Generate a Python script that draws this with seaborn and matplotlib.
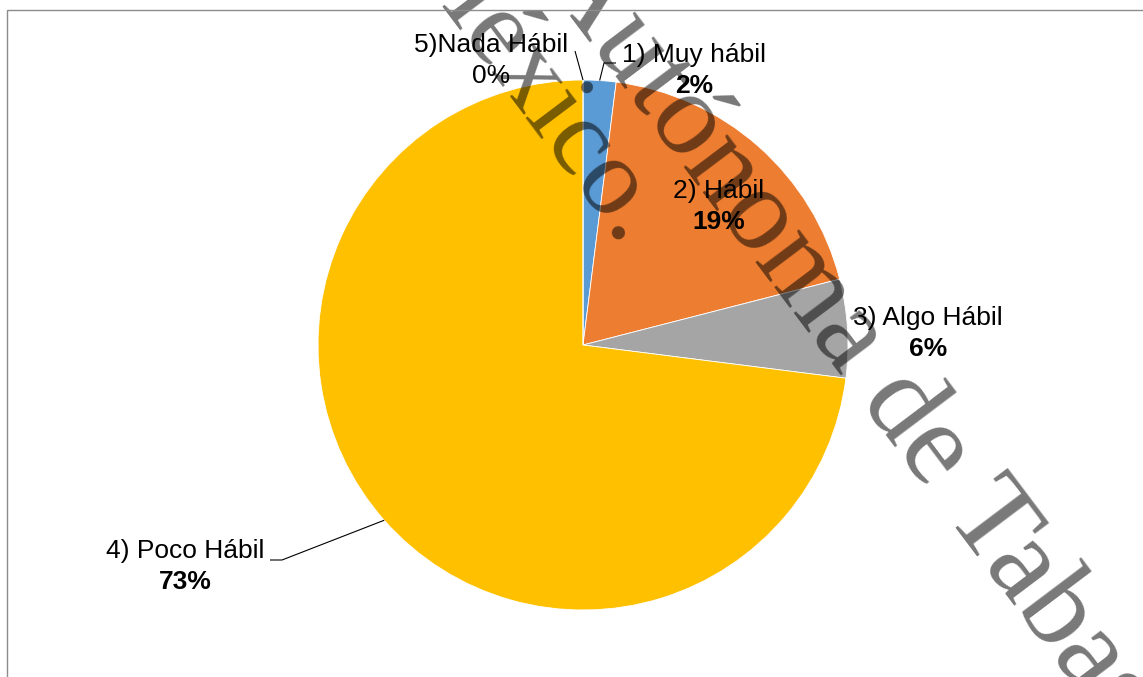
import numpy as np
import matplotlib
matplotlib.use("Agg")
import matplotlib.pyplot as plt
import seaborn as sns
from matplotlib.patches import Rectangle
from matplotlib import font_manager

# ---------------- data ----------------
categories = ["1) Muy hábil", "2) Hábil", "3) Algo Hábil", "4) Poco Hábil", "5)Nada Hábil"]
values = [2, 19, 6, 73, 0]
pct_bold = [True, True, True, True, False]
slice_colors = ["#5B9BD5", "#ED7D31", "#A5A5A5", "#FFC000", "#4472C4"]
watermark_lines = ["Autónoma de Tabasco.", "México."]

# ---------------- layout (image pixel coords, y down) ----------------
W, H = 1143, 677
CX, CY, R = 583, 345, 265
label_pos = [(694, 55), (719, 191), (928, 318), (185, 551), (491, 45)]
line_gap = 31
leaders = {0: [(616, 63), (604, 63)], 3: [(270, 560), (282, 560)], 4: [(575, 51)]}

sns.set_theme(style="white")
plt.rcParams['font.family'] = ['Liberation Sans', 'DejaVu Sans']

serif_path = font_manager.findfont(font_manager.FontProperties(family="Liberation Serif"))

fig = plt.figure(figsize=(W / 100, H / 100), dpi=100)
ax = fig.add_axes([0, 0, 1, 1])

def Y(y):
    return H - y

palette = sns.color_palette(slice_colors)
wedges, _ = ax.pie(values, colors=palette, startangle=90, counterclock=False,
                   center=(CX, Y(CY)), radius=R,
                   wedgeprops=dict(linewidth=0.6, edgecolor="white"))
ax.set_xlim(0, W)
ax.set_ylim(0, H)
ax.set_aspect("equal")
ax.axis("off")

# labels
total = float(sum(values))
cum = 0.0
for i, (cat, v) in enumerate(zip(categories, values)):
    mid = np.deg2rad(90 - 360 * (cum + v / 2) / total)
    cum += v
    lx, ly = label_pos[i]
    ax.text(lx, Y(ly), cat, ha="center", va="center", fontsize=19, color="black",
            zorder=5)
    ax.text(lx, Y(ly + line_gap), f"{v}%", ha="center", va="center", fontsize=19,
            fontweight="bold" if pct_bold[i] else "normal", color="black", zorder=5)
    if i in leaders:
        rim = (CX + R * np.cos(mid), CY - R * np.sin(mid))
        pts = leaders[i] + [rim]
        ax.plot([p[0] for p in pts], [Y(p[1]) for p in pts], color="black",
                lw=0.8, zorder=4, solid_capstyle="butt")

# frame border
fig.patches.append(Rectangle((7, Y(10)), 1300, -800, transform=None, fill=False,
                             edgecolor="#8c8c8c", linewidth=1.0))

# watermark
ang = 53
wm_kw = dict(color="black", alpha=0.53, rotation=-ang, rotation_mode="anchor",
             clip_on=False, zorder=6)
ax.text(538, Y(-26), watermark_lines[0], ha="left", va="baseline",
        fontproperties=font_manager.FontProperties(fname=serif_path, size=86), **wm_kw)
ax.text(622, Y(249), watermark_lines[1], ha="right", va="baseline",
        fontproperties=font_manager.FontProperties(fname=serif_path, size=80), **wm_kw)

fig.savefig("out.png", dpi=100)
